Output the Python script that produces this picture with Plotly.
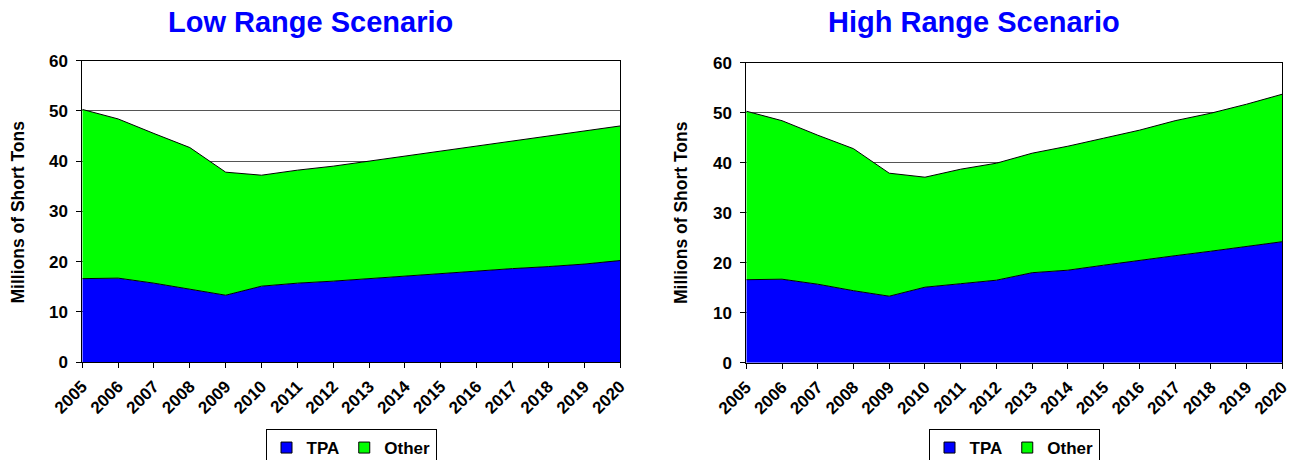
import plotly.graph_objects as go

# Shipments by year, millions of short tons
years = list(range(2005, 2021))

low_tpa = [16.6, 16.7, 15.7, 14.5, 13.3, 15.1, 15.7, 16.1,
           16.6, 17.2, 17.7, 18.2, 18.6, 19.0, 19.5, 20.2]
low_other = [33.7, 31.7, 29.8, 28.2, 24.5, 22.1, 22.5, 22.9,
             23.4, 23.8, 24.3, 24.7, 25.3, 26.0, 26.5, 26.8]

high_tpa = [16.6, 16.7, 15.7, 14.4, 13.3, 15.1, 15.8, 16.5,
            18.0, 18.5, 19.5, 20.5, 21.4, 22.3, 23.2, 24.2]
high_other = [33.7, 31.7, 29.8, 28.4, 24.6, 22.0, 22.9, 23.4,
              23.9, 24.8, 25.4, 26.0, 27.0, 27.6, 28.5, 29.5]

series_names = ["TPA", "Other"]
series_colors = ["#0000FF", "#00FF00"]

titles = ["Low Range Scenario", "High Range Scenario"]
y_title = "Millions of Short Tons"

FONT = "Liberation Sans, Arial, sans-serif"
W, H = 1291, 460

fig = go.Figure()

panels = [
    dict(tpa=low_tpa, other=low_other, xa="x", ya="y", legend="legend", group="low"),
    dict(tpa=high_tpa, other=high_other, xa="x2", ya="y2", legend="legend2", group="high"),
]

for p in panels:
    for name, vals, color in zip(series_names, [p["tpa"], p["other"]], series_colors):
        fig.add_trace(go.Scatter(
            x=years, y=vals, name=name, mode="lines",
            stackgroup=p["group"], fillcolor=color,
            line=dict(color="black", width=1),
            xaxis=p["xa"], yaxis=p["ya"], showlegend=False,
            hoverinfo="x+y+name",
        ))
    # legend keys: square swatches
    for name, color in zip(series_names, series_colors):
        fig.add_trace(go.Scatter(
            x=[None], y=[None], name=name, mode="markers",
            marker=dict(symbol="square", size=11, color=color,
                        line=dict(color="black", width=1)),
            xaxis=p["xa"], yaxis=p["ya"], legend=p["legend"],
            showlegend=True,
        ))

tick_font = dict(family=FONT, size=17, color="black", weight="bold")

xaxis_common = dict(
    range=[2005, 2020], tickmode="array", tickvals=years,
    ticktext=[str(y) for y in years], tickangle=-45,
    ticks="outside", ticklen=5, tickcolor="black", tickwidth=1,
    showline=True, linecolor="black", linewidth=1, mirror=True,
    showgrid=False, zeroline=False, tickfont=tick_font,
    ticklabelstandoff=2, ticklabeloverflow="allow",
    fixedrange=True, automargin=False,
)
yaxis_common = dict(
    range=[0, 60], tickmode="linear", tick0=0, dtick=10,
    ticks="outside", ticklen=5, tickcolor="black", tickwidth=1,
    showline=True, linecolor="black", linewidth=1, mirror=True,
    showgrid=True, gridcolor="#555555", gridwidth=1,
    zeroline=False, tickfont=tick_font, ticklabelstandoff=5,
    ticklabeloverflow="allow", fixedrange=True, automargin=False,
)

legend_common = dict(
    orientation="h", yanchor="top", xanchor="center",
    y=(H - 429) / H, bgcolor="white", bordercolor="black", borderwidth=1,
    font=dict(family=FONT, size=17, color="black", weight="bold"),
    itemwidth=30, tracegroupgap=0, traceorder="normal",
    itemclick=False, itemdoubleclick=False,
)

fig.update_layout(
    template="none",
    width=W, height=H,
    margin=dict(l=0, r=0, t=0, b=0, autoexpand=False),
    paper_bgcolor="white", plot_bgcolor="white",
    font=dict(family=FONT, color="black"),
    xaxis=dict(domain=[82.3 / W, 620 / W], anchor="y", **xaxis_common),
    yaxis=dict(domain=[(H - 362) / H, (H - 60.7) / H], anchor="x", **yaxis_common),
    xaxis2=dict(domain=[746.3 / W, 1282.3 / W], anchor="y2", **xaxis_common),
    yaxis2=dict(domain=[(H - 362.7) / H, (H - 62.7) / H], anchor="x2", **yaxis_common),
    legend=dict(x=351 / W, **legend_common),
    legend2=dict(x=1014 / W, **legend_common),
    showlegend=True,
)

# Chart titles and y-axis titles
for cx, text in zip([310, 974], titles):
    fig.add_annotation(
        x=cx / W, y=1 - 22 / H, xref="paper", yref="paper",
        xanchor="center", yanchor="middle", showarrow=False, text=text,
        font=dict(family=FONT, size=29, color="#0000FF", weight="bold"),
    )
for cx, cy in [(17.5, 212), (681, 213)]:
    fig.add_annotation(
        x=cx / W, y=1 - cy / H, xref="paper", yref="paper",
        xanchor="center", yanchor="middle", showarrow=False, text=y_title,
        textangle=-90,
        font=dict(family=FONT, size=17.5, color="black", weight="bold"),
    )

fig.write_html("out.html")
